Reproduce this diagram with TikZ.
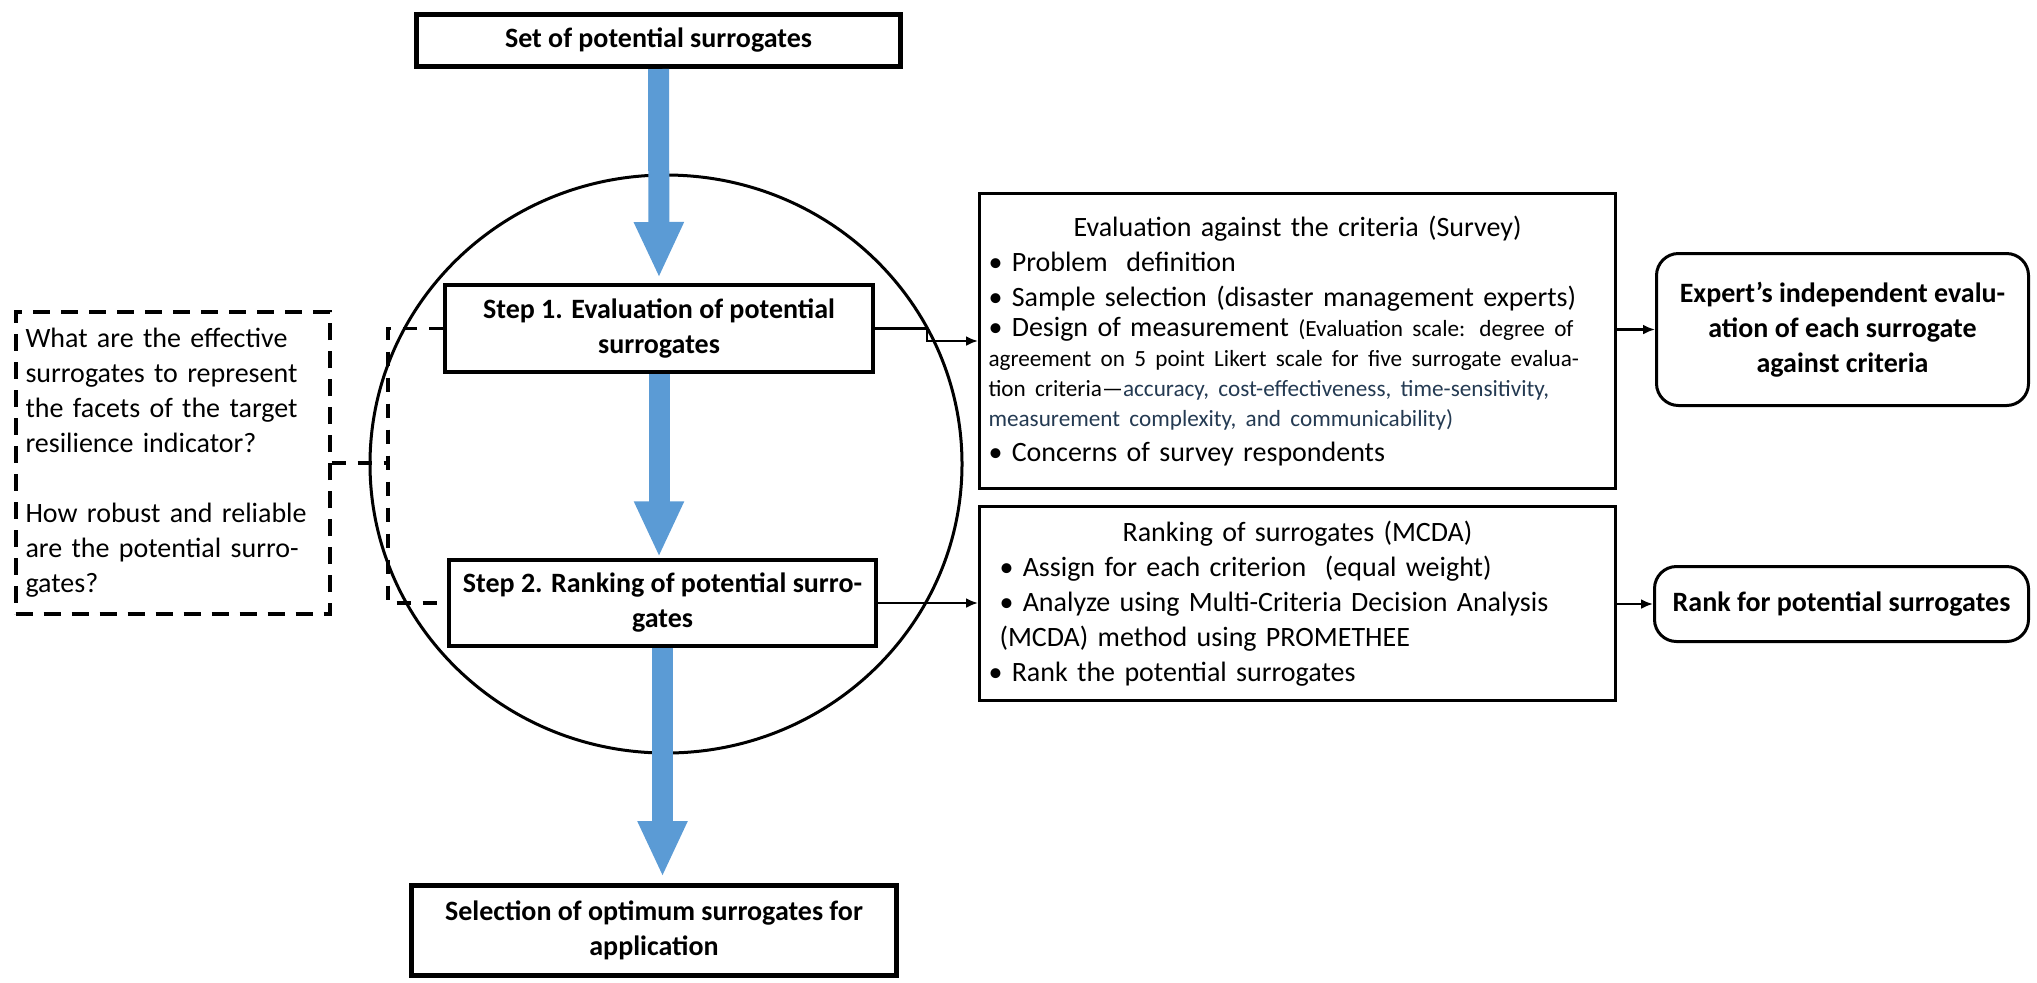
\documentclass[tikz,border=0pt]{standalone}
\usepackage{fontspec}
\setmainfont{Carlito}
\usepackage{xcolor}
\usepackage{tikz}
\usetikzlibrary{arrows.meta,positioning}
\definecolor{flowBlue}{RGB}{91,155,213}
\definecolor{noteSlate}{RGB}{36,58,82}
\newcommand{\mainsize}{\fontsize{14}{17.5}\selectfont}
\newcommand{\notesize}{\fontsize{11.6}{15}\selectfont}

\begin{document}
\begin{tikzpicture}[x=0.5pt,y=-0.5pt,
  stepbox/.style={draw, fill=white, align=center, inner sep=0pt, font=\mainsize\bfseries},
  listbox/.style={draw, line width=1.5pt, fill=white, inner xsep=4.5pt, inner ysep=0pt, text width=309pt, align=left, font=\mainsize},
  outbox/.style={draw, line width=1.5pt, rounded corners=11pt, fill=white, align=center, inner sep=0pt, font=\mainsize\bfseries},
  flow/.style={flowBlue, line width=10.5pt, -{Triangle[length=28pt,width=23pt]}},
  link/.style={line width=1.3pt, -{Latex[length=6pt,width=5pt]}},
  qlink/.style={line width=1.6pt, dash pattern=on 7pt off 6pt}]
\useasboundingbox (0,0) rectangle (2037,982);
% ring round the two steps
\draw[line width=1.5pt] (666,464) ellipse [x radius=148pt, y radius=144.5pt];

\node[stepbox, line width=2.5pt, minimum width=242pt, minimum height=26pt] (top) at (658.5,40.5) {Set of potential surrogates};
\node[stepbox, line width=2pt, minimum width=214pt, minimum height=43.5pt] (step1) at (659,328.5) {Step 1. Evaluation of potential\\surrogates};
\node[stepbox, line width=1.75pt, minimum width=213.5pt, minimum height=43pt] (step2) at (662.5,603) {Step 2. Ranking of potential surro-\\gates};
\node[stepbox, line width=2.5pt, minimum width=242.5pt, minimum height=45pt] (bottom) at (654,930.5) {Selection of optimum surrogates for\\application};

\node[draw, line width=2pt, dash pattern=on 8.5pt off 5.5pt, inner xsep=5pt, text width=147pt,
  minimum height=151pt, align=left, font=\mainsize] (question) at (172.5,463)
  {What are the effective\\surrogates to represent\\the facets of the target\\resilience indicator?\\[17.5pt]How robust and reliable\\are the potential surro-\\gates?};

\node[listbox, minimum height=147.5pt] (eval) at (1297.5,341) {%
  {\centering Evaluation against the criteria (Survey)\par}
  •~Problem~ definition\par
  •~Sample selection (disaster management experts)\par
  •~Design of measurement {\notesize (Evaluation scale: degree of\par
  agreement on 5 point Likert scale for five surrogate evalua-\par
  tion criteria—\color{noteSlate}accuracy, cost-effectiveness, time-sensitivity,\par
  measurement complexity, and communicability)\par}
  •~Concerns of survey respondents};

\node[listbox, minimum height=97pt] (ranking) at (1297.5,603.5) {%
  {\centering Ranking of surrogates (MCDA)\par}
  \leftskip=5.5pt
  •~Assign for each criterion~ (equal weight)\par
  \hangindent=8pt •~Analyze using Multi-Criteria Decision Analysis\\(MCDA) method using PROMETHEE\par
  •~Rank the potential surrogates};

\node[outbox, minimum width=186pt, minimum height=76pt] (expert) at (1842.5,329.5) {Expert’s independent evalu-\\ation of each surrogate\\against criteria};
\node[outbox, minimum width=187pt, minimum height=37.5pt] (rankres) at (1841.5,604) {Rank for potential surrogates};

% main flow
\draw[flow, shorten >=2.5pt] (top.south) -- (step1.north);
\draw[flow, shorten >=0.5pt] (step1.south) -- (step1.south |- step2.north);
\draw[flow, shorten >=3pt] (step2.south) -- (step2.south |- bottom.north);

% questions to steps
\coordinate (qbar) at (388,463);
\draw[qlink] (question.east) -- (qbar);
\draw[qlink] (step1.west) -| (qbar) |- (step2.west);

% steps to methods to outcomes
\draw[link] (step1.east) -- ++(52,0) |- (eval.west);
\draw[link] (step2.east) -- (step2.east -| ranking.west);
\draw[link] (eval.east |- expert.west) -- (expert.west);
\draw[link] (ranking.east |- rankres.west) -- (rankres.west);
\end{tikzpicture}
\end{document}
